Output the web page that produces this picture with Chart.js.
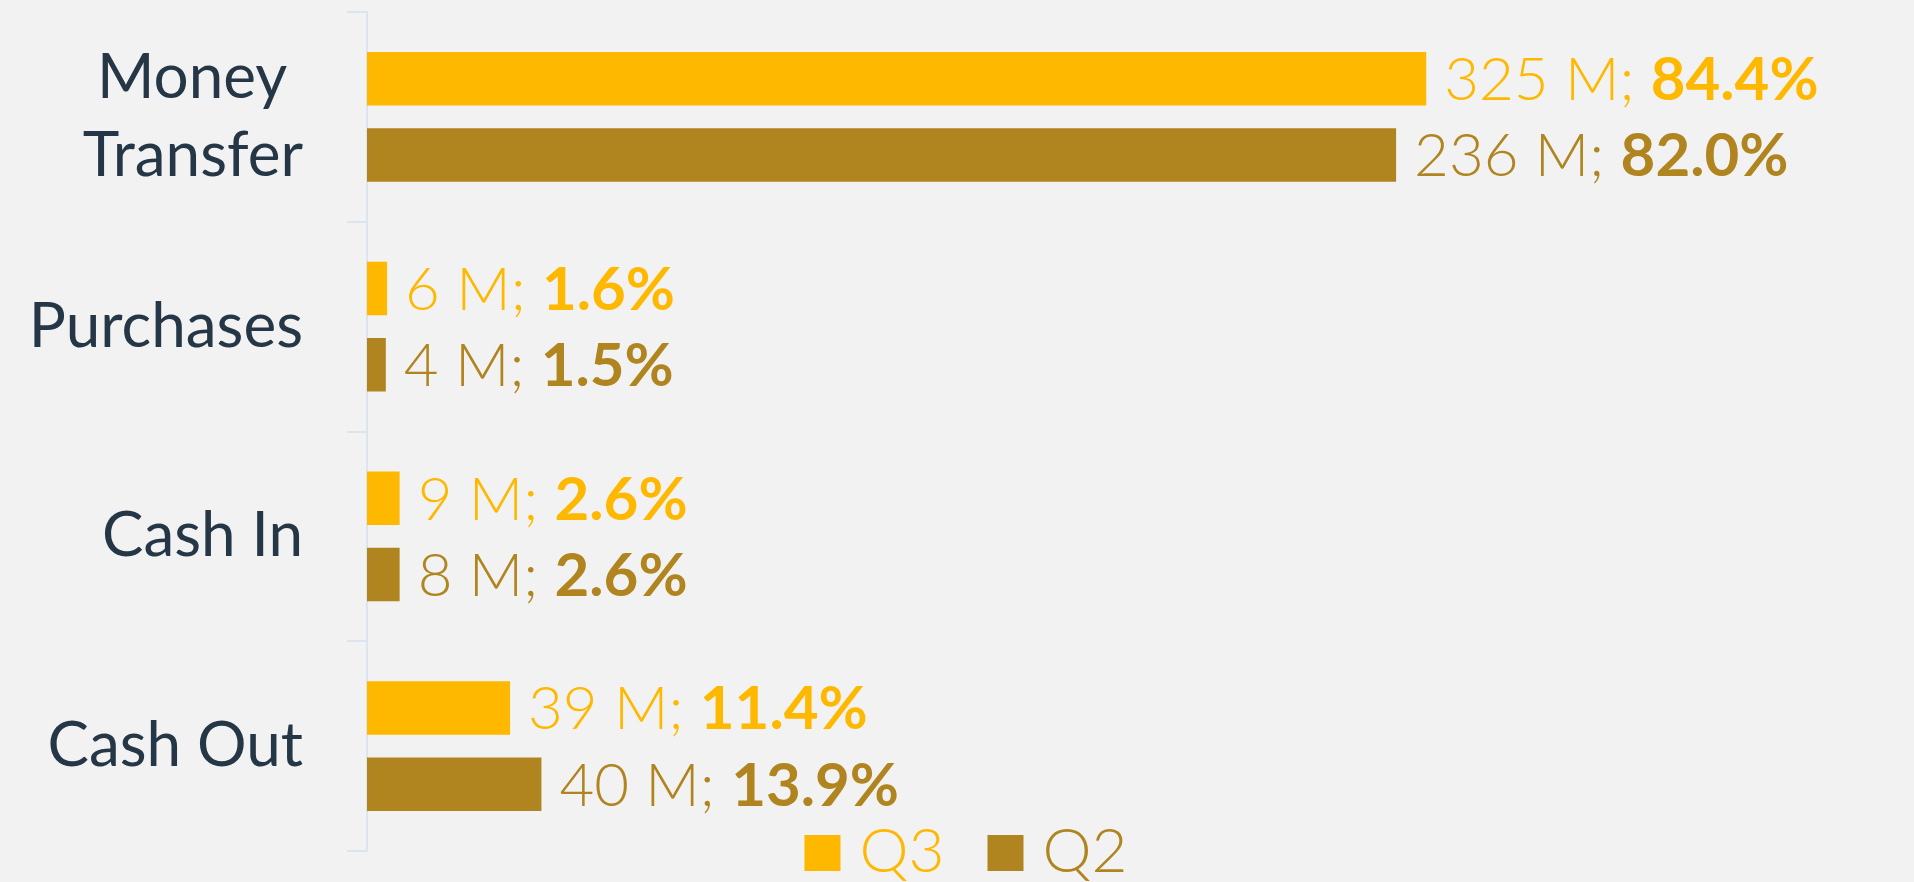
<!DOCTYPE html>
<html>
<head>
<meta charset="utf-8">
<script src="https://cdn.jsdelivr.net/npm/chart.js@4.4.1/dist/chart.umd.min.js"></script>
<style>
  html, body { margin: 0; padding: 0; background: #f2f2f2; }
  #wrap { position: relative; width: 1914px; height: 882px; }
</style>
</head>
<body>
<div id="wrap"><canvas id="c"></canvas></div>
<script>
// ---- data ----
const categories = [['Money ', 'Transfer'], 'Purchases', 'Cash In', 'Cash Out'];
const seriesNames = ['Q3', 'Q2'];
const q3Share = [84.4, 1.6, 2.6, 11.4];
const q2Share = [82.0, 1.5, 2.6, 13.9];
const q3Volume = [325, 6, 9, 39];
const q2Volume = [236, 4, 8, 40];
const axisMax = 100;

// ---- styles ----
const COL_Q3 = '#ffb800';
const COL_Q2 = '#b0841f';
const COL_TEXT = '#253746';
const COL_AXIS = '#dce5ed';
const FONT = 'Lato, "Open Sans", sans-serif';

const valueLabels = {
  id: 'valueLabels',
  afterDatasetsDraw(chart) {
    const ctx = chart.ctx;
    chart.data.datasets.forEach((ds, di) => {
      const meta = chart.getDatasetMeta(di);
      meta.data.forEach((bar, i) => {
        const part1 = ds.volumes[i] + ' M; ';
        const part2 = ds.data[i].toFixed(1) + '%';
        ctx.save();
        ctx.fillStyle = ds.backgroundColor;
        ctx.textBaseline = 'middle';
        ctx.textAlign = 'left';
        let x = bar.x + 18;
        const y = bar.y + 2;
        ctx.font = '300 60px ' + FONT;
        ctx.fillText(part1, x, y);
        x += ctx.measureText(part1).width;
        ctx.font = '700 60px ' + FONT;
        ctx.fillText(part2, x, y);
        ctx.restore();
      });
    });
  }
};

const bottomLegend = {
  id: 'bottomLegend',
  afterDraw(chart) {
    const ctx = chart.ctx;
    const box = 36, gap = 19, itemGap = 43;
    ctx.save();
    ctx.font = '300 62px ' + FONT;
    const items = chart.data.datasets.map(ds => ({
      text: ds.label, color: ds.backgroundColor, w: ctx.measureText(ds.label).width
    }));
    const total = items.reduce((s, it) => s + box + gap + it.w, 0) + itemGap * (items.length - 1);
    let x = chart.width / 2 + 9 - total / 2;
    const y = chart.height - 30;
    ctx.textBaseline = 'middle';
    ctx.textAlign = 'left';
    items.forEach(it => {
      ctx.fillStyle = it.color;
      ctx.fillRect(x, y - box / 2 + 1, box, box);
      x += box + gap;
      ctx.fillText(it.text, x, y);
      x += it.w + itemGap;
    });
    ctx.restore();
  }
};

new Chart(document.getElementById('c'), {
  type: 'bar',
  data: {
    labels: categories,
    datasets: [
      { label: seriesNames[0], data: q3Share, volumes: q3Volume, backgroundColor: COL_Q3 },
      { label: seriesNames[1], data: q2Share, volumes: q2Volume, backgroundColor: COL_Q2 }
    ]
  },
  options: {
    indexAxis: 'y',
    responsive: true,
    maintainAspectRatio: false,
    animation: false,
    devicePixelRatio: 1,
    categoryPercentage: 0.727,
    barPercentage: 0.7,
    layout: { padding: { top: 12, bottom: 31, left: 0, right: 292 } },
    plugins: {
      legend: { display: false },
      tooltip: { enabled: false }
    },
    scales: {
      x: { display: false, min: 0, max: axisMax },
      y: {
        afterFit(scale) {
          scale.width = 367;
          scale.paddingTop = 0;
          scale.paddingBottom = 0;
        },
        grid: { drawOnChartArea: false, drawTicks: true, tickLength: 20, color: COL_AXIS, lineWidth: 2 },
        border: { display: true, color: COL_AXIS, width: 2 },
        ticks: {
          padding: 44,
          color: COL_TEXT,
          font: { family: FONT, size: 62, weight: '400', lineHeight: 1.26 }
        }
      }
    }
  },
  plugins: [valueLabels, bottomLegend]
});
</script>
</body>
</html>
